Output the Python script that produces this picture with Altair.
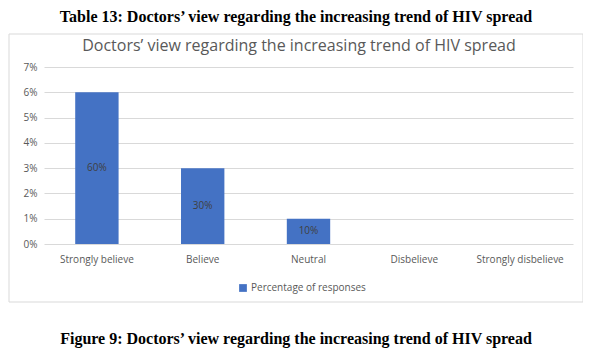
import altair as alt
import pandas as pd

categories = ["Strongly believe", "Believe", "Neutral", "Disbelieve", "Strongly disbelieve"]
values = [0.06, 0.03, 0.01, 0.0, 0.0]
bar_labels = ["60%", "30%", "10%", "", ""]
series = ["Percentage of responses"] * 5
y_ticks = [0, 0.01, 0.02, 0.03, 0.04, 0.05, 0.06, 0.07]

df = pd.DataFrame({"cat": categories, "val": values, "lab": bar_labels, "series": series})

W, H = 529, 177
GRAY = "#595959"

base = alt.Chart(df)

frame = alt.Chart(pd.DataFrame({"a": [0]})).mark_rect(
    fill="white", fillOpacity=0, stroke="#d9d9d9", strokeWidth=1
).encode(
    x=alt.value(-35), x2=alt.value(539), y=alt.value(-33), y2=alt.value(235)
)

bars = base.mark_bar(color="#4472C4", strokeWidth=0).encode(
    x=alt.X("cat:N", sort=categories,
            scale=alt.Scale(paddingInner=0.59, paddingOuter=0.295),
            axis=alt.Axis(title=None, labelAngle=0, labelFont="Open Sans", labelFontSize=10,
                          labelColor=GRAY, labelPadding=10, ticks=False, domain=False, grid=False)),
    y=alt.Y("val:Q", scale=alt.Scale(domain=[0, 0.07], nice=False),
            axis=alt.Axis(title=None, values=y_ticks, tickCount=len(y_ticks), format=".0%",
                          labelFont="Open Sans",
                          labelFontSize=10, labelColor=GRAY, labelPadding=7, ticks=False,
                          labelOverlap=False, labelBound=False,
                          domain=False, grid=True, gridColor="#d9d9d9", gridWidth=1)),
    color=alt.Color("series:N", scale=alt.Scale(range=["#4472C4"]),
                    legend=alt.Legend(title=None, orient="none", legendX=194, legendY=216,
                                      symbolType="square", symbolSize=60, symbolStrokeWidth=0,
                                      labelFont="Open Sans", labelFontSize=10, labelColor=GRAY,
                                      labelOffset=3)),
)

labels = base.mark_text(font="Open Sans", fontSize=10, color="#404040").encode(
    x=alt.X("cat:N", sort=categories),
    y=alt.Y("mid:Q"),
    text="lab:N",
).transform_calculate(mid="datum.val/2")

title_data = pd.DataFrame({"t": ["Doctors\u2019 view regarding the increasing trend of HIV spread"]})
chart_title = alt.Chart(title_data).mark_text(
    font="Open Sans", fontSize=16, color=GRAY, align="center", baseline="middle"
).encode(text="t:N", x=alt.value(255), y=alt.value(-21))

top_data = pd.DataFrame({"t": ["Table 13: Doctors\u2019 view regarding the increasing trend of HIV spread"]})
top_title = alt.Chart(top_data).mark_text(
    font="Liberation Serif", fontSize=16, fontWeight="bold", color="black", align="center", baseline="middle"
).encode(text="t:N", x=alt.value(252), y=alt.value(-50))

cap_data = pd.DataFrame({"t": ["Figure 9: Doctors\u2019 view regarding the increasing trend of HIV spread"]})
caption = alt.Chart(cap_data).mark_text(
    font="Liberation Serif", fontSize=16, fontWeight="bold", color="black", align="center", baseline="middle"
).encode(text="t:N", x=alt.value(252), y=alt.value(272))

chart = alt.layer(frame, top_title, chart_title, bars, labels, caption).properties(
    width=W, height=H,
    autosize=alt.AutoSizeParams(type="none"),
    padding={"left": 36, "top": 59, "right": 10, "bottom": 106},
).configure_view(stroke=None)

chart.save("out.html", embed_options={"renderer": "svg", "actions": False})
